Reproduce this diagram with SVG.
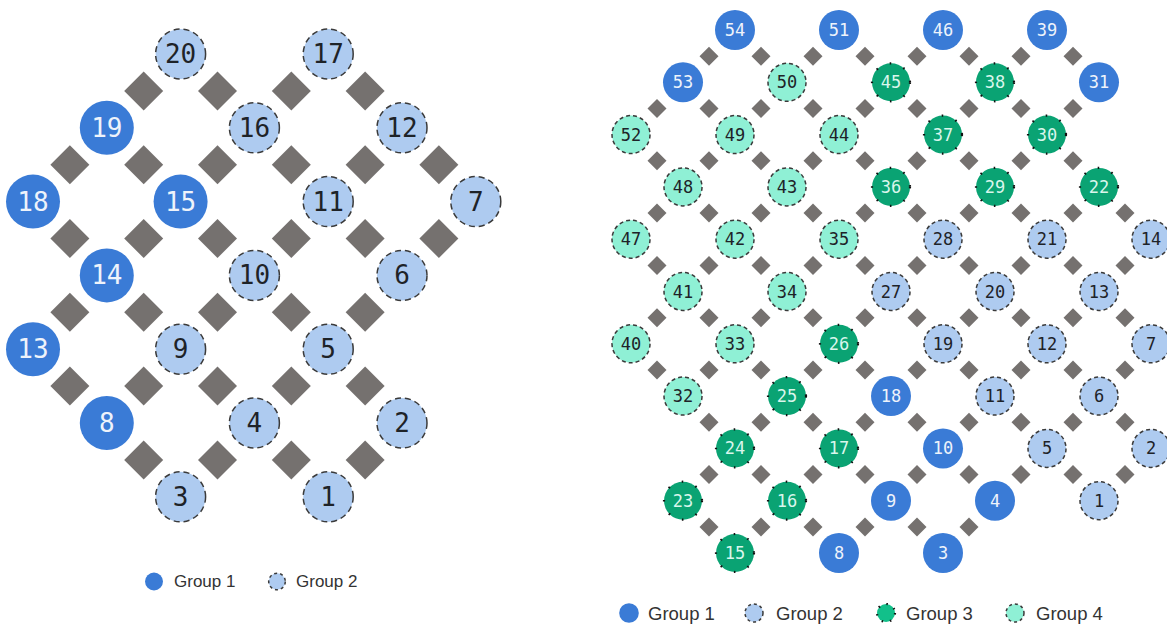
<svg xmlns="http://www.w3.org/2000/svg" xmlns:xlink="http://www.w3.org/1999/xlink" width="1167" height="633" viewBox="0 0 1167 633">
<style>
text{font-family:"DejaVu Sans Mono","Liberation Mono",monospace;text-anchor:middle;dominant-baseline:central}
.L text{font-size:26px}
.R text{font-size:17px}
.g1 circle{fill:#3a7bd6}
.g1 text{fill:#eef3fb}
.g2 circle{fill:#aecbf0;stroke:#3a3a3a;stroke-width:1.5}
.g2 text,.g4 text{fill:#1e2328}
.g3 circle{fill:#0aa373;stroke:#111;stroke-width:2.2;stroke-dasharray:1.6 13}
.g3 text{fill:#d9f6ec}
.g4 circle{fill:#8ff0d5;stroke:#3a3a3a;stroke-width:1.5}
.L .g2 circle{stroke-dasharray:6 4}
.R .g2 circle,.R .g4 circle{stroke-dasharray:4 3}
.dm{fill:#75716f}
.leg text{font-family:"Liberation Sans",Arial,sans-serif;text-anchor:start;fill:#333}
</style>
<defs>
<path id="dl" class="dm" d="M0,-19.5L19.5,0L0,19.5L-19.5,0Z"/>
<path id="dr" class="dm" d="M0,-9.5L9.5,0L0,9.5L-9.5,0Z"/>
</defs>
<g id="connectors">
<g id="connectors-left">
<use href="#dl" x="143.7" y="90.9"/><use href="#dl" x="217.5" y="90.9"/><use href="#dl" x="291.3" y="90.9"/><use href="#dl" x="365.1" y="90.9"/>
<use href="#dl" x="69.9" y="164.7"/><use href="#dl" x="143.7" y="164.7"/><use href="#dl" x="217.5" y="164.7"/><use href="#dl" x="291.3" y="164.7"/><use href="#dl" x="365.1" y="164.7"/><use href="#dl" x="438.9" y="164.7"/>
<use href="#dl" x="69.9" y="238.5"/><use href="#dl" x="143.7" y="238.5"/><use href="#dl" x="217.5" y="238.5"/><use href="#dl" x="291.3" y="238.5"/><use href="#dl" x="365.1" y="238.5"/><use href="#dl" x="438.9" y="238.5"/>
<use href="#dl" x="69.9" y="312.3"/><use href="#dl" x="143.7" y="312.3"/><use href="#dl" x="217.5" y="312.3"/><use href="#dl" x="291.3" y="312.3"/><use href="#dl" x="365.1" y="312.3"/>
<use href="#dl" x="69.9" y="386.1"/><use href="#dl" x="143.7" y="386.1"/><use href="#dl" x="217.5" y="386.1"/><use href="#dl" x="291.3" y="386.1"/><use href="#dl" x="365.1" y="386.1"/>
<use href="#dl" x="143.7" y="459.9"/><use href="#dl" x="217.5" y="459.9"/><use href="#dl" x="291.3" y="459.9"/><use href="#dl" x="365.1" y="459.9"/>
</g>
<g id="connectors-right">
<use href="#dr" x="709" y="56.2"/><use href="#dr" x="761" y="56.2"/><use href="#dr" x="813" y="56.2"/><use href="#dr" x="865" y="56.2"/><use href="#dr" x="917" y="56.2"/><use href="#dr" x="969" y="56.2"/><use href="#dr" x="1021" y="56.2"/><use href="#dr" x="1073" y="56.2"/>
<use href="#dr" x="657" y="108.5"/><use href="#dr" x="709" y="108.5"/><use href="#dr" x="761" y="108.5"/><use href="#dr" x="813" y="108.5"/><use href="#dr" x="865" y="108.5"/><use href="#dr" x="917" y="108.5"/><use href="#dr" x="969" y="108.5"/><use href="#dr" x="1021" y="108.5"/><use href="#dr" x="1073" y="108.5"/>
<use href="#dr" x="657" y="160.8"/><use href="#dr" x="709" y="160.8"/><use href="#dr" x="761" y="160.8"/><use href="#dr" x="813" y="160.8"/><use href="#dr" x="865" y="160.8"/><use href="#dr" x="917" y="160.8"/><use href="#dr" x="969" y="160.8"/><use href="#dr" x="1021" y="160.8"/><use href="#dr" x="1073" y="160.8"/>
<use href="#dr" x="657" y="213.1"/><use href="#dr" x="709" y="213.1"/><use href="#dr" x="761" y="213.1"/><use href="#dr" x="813" y="213.1"/><use href="#dr" x="865" y="213.1"/><use href="#dr" x="917" y="213.1"/><use href="#dr" x="969" y="213.1"/><use href="#dr" x="1021" y="213.1"/><use href="#dr" x="1073" y="213.1"/><use href="#dr" x="1125" y="213.1"/>
<use href="#dr" x="657" y="265.4"/><use href="#dr" x="709" y="265.4"/><use href="#dr" x="761" y="265.4"/><use href="#dr" x="813" y="265.4"/><use href="#dr" x="865" y="265.4"/><use href="#dr" x="917" y="265.4"/><use href="#dr" x="969" y="265.4"/><use href="#dr" x="1021" y="265.4"/><use href="#dr" x="1073" y="265.4"/><use href="#dr" x="1125" y="265.4"/>
<use href="#dr" x="657" y="317.7"/><use href="#dr" x="709" y="317.7"/><use href="#dr" x="761" y="317.7"/><use href="#dr" x="813" y="317.7"/><use href="#dr" x="865" y="317.7"/><use href="#dr" x="917" y="317.7"/><use href="#dr" x="969" y="317.7"/><use href="#dr" x="1021" y="317.7"/><use href="#dr" x="1073" y="317.7"/><use href="#dr" x="1125" y="317.7"/>
<use href="#dr" x="657" y="370"/><use href="#dr" x="709" y="370"/><use href="#dr" x="761" y="370"/><use href="#dr" x="813" y="370"/><use href="#dr" x="865" y="370"/><use href="#dr" x="917" y="370"/><use href="#dr" x="969" y="370"/><use href="#dr" x="1021" y="370"/><use href="#dr" x="1073" y="370"/><use href="#dr" x="1125" y="370"/>
<use href="#dr" x="709" y="422.3"/><use href="#dr" x="761" y="422.3"/><use href="#dr" x="813" y="422.3"/><use href="#dr" x="865" y="422.3"/><use href="#dr" x="917" y="422.3"/><use href="#dr" x="969" y="422.3"/><use href="#dr" x="1021" y="422.3"/><use href="#dr" x="1073" y="422.3"/><use href="#dr" x="1125" y="422.3"/>
<use href="#dr" x="709" y="474.6"/><use href="#dr" x="761" y="474.6"/><use href="#dr" x="813" y="474.6"/><use href="#dr" x="865" y="474.6"/><use href="#dr" x="917" y="474.6"/><use href="#dr" x="969" y="474.6"/><use href="#dr" x="1021" y="474.6"/><use href="#dr" x="1073" y="474.6"/><use href="#dr" x="1125" y="474.6"/>
<use href="#dr" x="709" y="526.9"/><use href="#dr" x="761" y="526.9"/><use href="#dr" x="813" y="526.9"/><use href="#dr" x="865" y="526.9"/><use href="#dr" x="917" y="526.9"/><use href="#dr" x="969" y="526.9"/>
</g>
</g>
<g id="left-nodes" class="L">
<g id="L20" class="g2"><circle cx="180.6" cy="54" r="25"/><text x="180.6" y="54">20</text></g>
<g id="L17" class="g2"><circle cx="328.2" cy="54" r="25"/><text x="328.2" y="54">17</text></g>
<g id="L19" class="g1"><circle cx="106.8" cy="127.8" r="27"/><text x="106.8" y="127.8">19</text></g>
<g id="L16" class="g2"><circle cx="254.4" cy="127.8" r="25"/><text x="254.4" y="127.8">16</text></g>
<g id="L12" class="g2"><circle cx="402" cy="127.8" r="25"/><text x="402" y="127.8">12</text></g>
<g id="L18" class="g1"><circle cx="33" cy="201.6" r="27"/><text x="33" y="201.6">18</text></g>
<g id="L15" class="g1"><circle cx="180.6" cy="201.6" r="27"/><text x="180.6" y="201.6">15</text></g>
<g id="L11" class="g2"><circle cx="328.2" cy="201.6" r="25"/><text x="328.2" y="201.6">11</text></g>
<g id="L7" class="g2"><circle cx="475.8" cy="201.6" r="25"/><text x="475.8" y="201.6">7</text></g>
<g id="L14" class="g1"><circle cx="106.8" cy="275.4" r="27"/><text x="106.8" y="275.4">14</text></g>
<g id="L10" class="g2"><circle cx="254.4" cy="275.4" r="25"/><text x="254.4" y="275.4">10</text></g>
<g id="L6" class="g2"><circle cx="402" cy="275.4" r="25"/><text x="402" y="275.4">6</text></g>
<g id="L13" class="g1"><circle cx="33" cy="349.2" r="27"/><text x="33" y="349.2">13</text></g>
<g id="L9" class="g2"><circle cx="180.6" cy="349.2" r="25"/><text x="180.6" y="349.2">9</text></g>
<g id="L5" class="g2"><circle cx="328.2" cy="349.2" r="25"/><text x="328.2" y="349.2">5</text></g>
<g id="L8" class="g1"><circle cx="106.8" cy="423" r="27"/><text x="106.8" y="423">8</text></g>
<g id="L4" class="g2"><circle cx="254.4" cy="423" r="25"/><text x="254.4" y="423">4</text></g>
<g id="L2" class="g2"><circle cx="402" cy="423" r="25"/><text x="402" y="423">2</text></g>
<g id="L3" class="g2"><circle cx="180.6" cy="496.8" r="25"/><text x="180.6" y="496.8">3</text></g>
<g id="L1" class="g2"><circle cx="328.2" cy="496.8" r="25"/><text x="328.2" y="496.8">1</text></g>
</g>
<g id="right-nodes" class="R">
<g id="R54" class="g1"><circle cx="735" cy="30" r="20"/><text x="735" y="30">54</text></g>
<g id="R51" class="g1"><circle cx="839" cy="30" r="20"/><text x="839" y="30">51</text></g>
<g id="R46" class="g1"><circle cx="943" cy="30" r="20"/><text x="943" y="30">46</text></g>
<g id="R39" class="g1"><circle cx="1047" cy="30" r="20"/><text x="1047" y="30">39</text></g>
<g id="R53" class="g1"><circle cx="683" cy="82.3" r="20"/><text x="683" y="82.3">53</text></g>
<g id="R50" class="g4"><circle cx="787" cy="82.3" r="19"/><text x="787" y="82.3">50</text></g>
<g id="R45" class="g3"><circle cx="891" cy="82.3" r="19"/><text x="891" y="82.3">45</text></g>
<g id="R38" class="g3"><circle cx="995" cy="82.3" r="19"/><text x="995" y="82.3">38</text></g>
<g id="R31" class="g1"><circle cx="1099" cy="82.3" r="20"/><text x="1099" y="82.3">31</text></g>
<g id="R52" class="g4"><circle cx="631" cy="134.6" r="19"/><text x="631" y="134.6">52</text></g>
<g id="R49" class="g4"><circle cx="735" cy="134.6" r="19"/><text x="735" y="134.6">49</text></g>
<g id="R44" class="g4"><circle cx="839" cy="134.6" r="19"/><text x="839" y="134.6">44</text></g>
<g id="R37" class="g3"><circle cx="943" cy="134.6" r="19"/><text x="943" y="134.6">37</text></g>
<g id="R30" class="g3"><circle cx="1047" cy="134.6" r="19"/><text x="1047" y="134.6">30</text></g>
<g id="R48" class="g4"><circle cx="683" cy="186.9" r="19"/><text x="683" y="186.9">48</text></g>
<g id="R43" class="g4"><circle cx="787" cy="186.9" r="19"/><text x="787" y="186.9">43</text></g>
<g id="R36" class="g3"><circle cx="891" cy="186.9" r="19"/><text x="891" y="186.9">36</text></g>
<g id="R29" class="g3"><circle cx="995" cy="186.9" r="19"/><text x="995" y="186.9">29</text></g>
<g id="R22" class="g3"><circle cx="1099" cy="186.9" r="19"/><text x="1099" y="186.9">22</text></g>
<g id="R47" class="g4"><circle cx="631" cy="239.2" r="19"/><text x="631" y="239.2">47</text></g>
<g id="R42" class="g4"><circle cx="735" cy="239.2" r="19"/><text x="735" y="239.2">42</text></g>
<g id="R35" class="g4"><circle cx="839" cy="239.2" r="19"/><text x="839" y="239.2">35</text></g>
<g id="R28" class="g2"><circle cx="943" cy="239.2" r="19"/><text x="943" y="239.2">28</text></g>
<g id="R21" class="g2"><circle cx="1047" cy="239.2" r="19"/><text x="1047" y="239.2">21</text></g>
<g id="R14" class="g2"><circle cx="1151" cy="239.2" r="19"/><text x="1151" y="239.2">14</text></g>
<g id="R41" class="g4"><circle cx="683" cy="291.5" r="19"/><text x="683" y="291.5">41</text></g>
<g id="R34" class="g4"><circle cx="787" cy="291.5" r="19"/><text x="787" y="291.5">34</text></g>
<g id="R27" class="g2"><circle cx="891" cy="291.5" r="19"/><text x="891" y="291.5">27</text></g>
<g id="R20" class="g2"><circle cx="995" cy="291.5" r="19"/><text x="995" y="291.5">20</text></g>
<g id="R13" class="g2"><circle cx="1099" cy="291.5" r="19"/><text x="1099" y="291.5">13</text></g>
<g id="R40" class="g4"><circle cx="631" cy="343.8" r="19"/><text x="631" y="343.8">40</text></g>
<g id="R33" class="g4"><circle cx="735" cy="343.8" r="19"/><text x="735" y="343.8">33</text></g>
<g id="R26" class="g3"><circle cx="839" cy="343.8" r="19"/><text x="839" y="343.8">26</text></g>
<g id="R19" class="g2"><circle cx="943" cy="343.8" r="19"/><text x="943" y="343.8">19</text></g>
<g id="R12" class="g2"><circle cx="1047" cy="343.8" r="19"/><text x="1047" y="343.8">12</text></g>
<g id="R7" class="g2"><circle cx="1151" cy="343.8" r="19"/><text x="1151" y="343.8">7</text></g>
<g id="R32" class="g4"><circle cx="683" cy="396.1" r="19"/><text x="683" y="396.1">32</text></g>
<g id="R25" class="g3"><circle cx="787" cy="396.1" r="19"/><text x="787" y="396.1">25</text></g>
<g id="R18" class="g1"><circle cx="891" cy="396.1" r="20"/><text x="891" y="396.1">18</text></g>
<g id="R11" class="g2"><circle cx="995" cy="396.1" r="19"/><text x="995" y="396.1">11</text></g>
<g id="R6" class="g2"><circle cx="1099" cy="396.1" r="19"/><text x="1099" y="396.1">6</text></g>
<g id="R24" class="g3"><circle cx="735" cy="448.4" r="19"/><text x="735" y="448.4">24</text></g>
<g id="R17" class="g3"><circle cx="839" cy="448.4" r="19"/><text x="839" y="448.4">17</text></g>
<g id="R10" class="g1"><circle cx="943" cy="448.4" r="20"/><text x="943" y="448.4">10</text></g>
<g id="R5" class="g2"><circle cx="1047" cy="448.4" r="19"/><text x="1047" y="448.4">5</text></g>
<g id="R2" class="g2"><circle cx="1151" cy="448.4" r="19"/><text x="1151" y="448.4">2</text></g>
<g id="R23" class="g3"><circle cx="683" cy="500.7" r="19"/><text x="683" y="500.7">23</text></g>
<g id="R16" class="g3"><circle cx="787" cy="500.7" r="19"/><text x="787" y="500.7">16</text></g>
<g id="R9" class="g1"><circle cx="891" cy="500.7" r="20"/><text x="891" y="500.7">9</text></g>
<g id="R4" class="g1"><circle cx="995" cy="500.7" r="20"/><text x="995" y="500.7">4</text></g>
<g id="R1" class="g2"><circle cx="1099" cy="500.7" r="19"/><text x="1099" y="500.7">1</text></g>
<g id="R15" class="g3"><circle cx="735" cy="553" r="19"/><text x="735" y="553">15</text></g>
<g id="R8" class="g1"><circle cx="839" cy="553" r="20"/><text x="839" y="553">8</text></g>
<g id="R3" class="g1"><circle cx="943" cy="553" r="20"/><text x="943" y="553">3</text></g>
</g>
<g id="legend-left" class="leg">
<g class="g1"><circle cx="154" cy="581.5" r="9"/></g>
<text x="174" y="581.5" style="font-size:17px">Group 1</text>
<g class="g2"><circle cx="277" cy="581.5" r="8.3" style="stroke-dasharray:3 3"/></g>
<text x="296" y="581.5" style="font-size:17px">Group 2</text>
</g>
<g id="legend-right" class="leg">
<g class="g1"><circle cx="629" cy="613" r="9.8"/></g>
<text x="648" y="613" style="font-size:18.5px">Group 1</text>
<g class="g2"><circle cx="754" cy="613" r="9" style="stroke-dasharray:3 3"/></g>
<text x="776" y="613" style="font-size:18.5px">Group 2</text>
<g class="g3"><circle cx="886" cy="613" r="9" style="fill:#12c08a;stroke-dasharray:1.5 7"/></g>
<text x="906" y="613" style="font-size:18.5px">Group 3</text>
<g class="g4"><circle cx="1015" cy="613" r="9" style="stroke-dasharray:3 3"/></g>
<text x="1036" y="613" style="font-size:18.5px">Group 4</text>
</g>
</svg>
